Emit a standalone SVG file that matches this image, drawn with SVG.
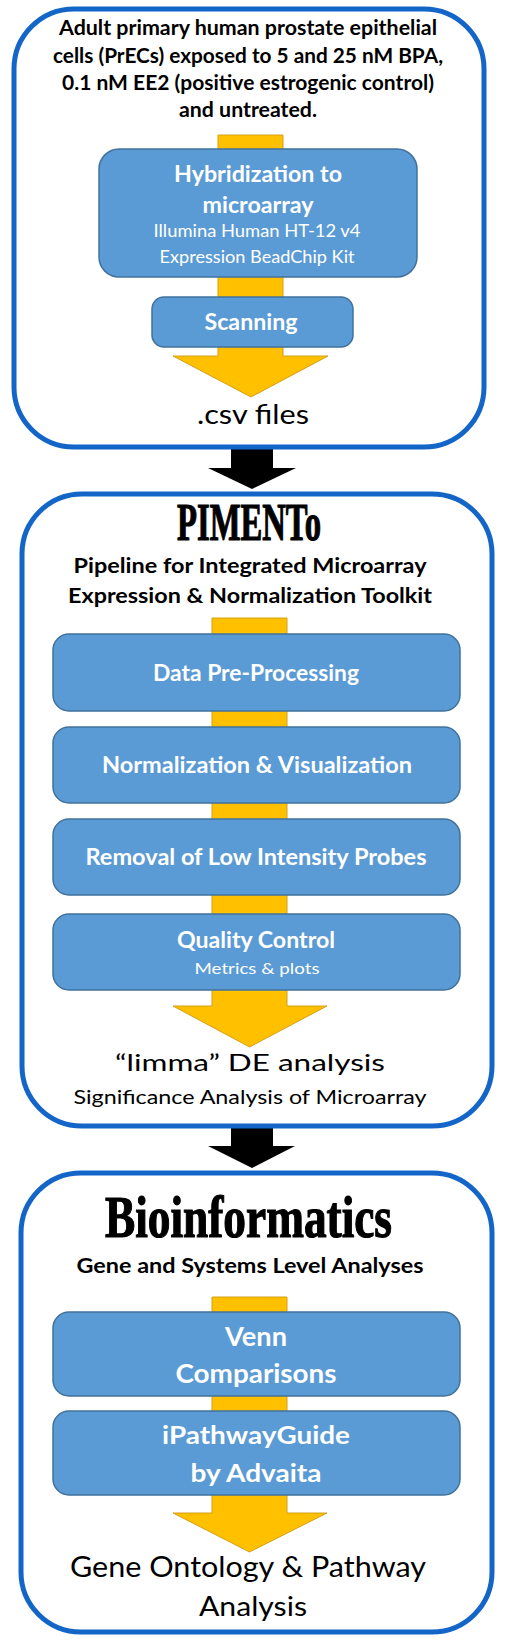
<svg xmlns="http://www.w3.org/2000/svg" width="506" height="1647" viewBox="0 0 506 1647">
<style>
.frame{fill:none;stroke:#1366C8;stroke-width:5}
.step{fill:#5B9BD5;stroke:#41719C;stroke-width:1.5}
.flow{fill:#FFC000;stroke:#D4A017;stroke-width:1}
.link{fill:#000}
text{font-family:Lato,"Open Sans","Liberation Sans",sans-serif;text-anchor:middle}
.b{font-weight:bold}
.w{fill:#fff}
.k{fill:#000}
.head{font-family:"Liberation Serif","DejaVu Serif",serif;font-weight:bold;fill:#000;stroke:#000;stroke-width:1.2}
</style>
<rect width="506" height="1647" fill="#fff"/>

<g id="connectors">
  <polygon class="flow" points="218,135 283,135 283,356 328,356 251,397 173,356 218,356"/>
  <polygon class="flow" points="212,618 287,618 287,1006 327,1006 249.5,1047 173,1006 212,1006"/>
  <polygon class="flow" points="212,1297 287,1297 287,1513 327,1513 249.5,1552 173,1513 212,1513"/>
  <polygon class="link" points="231,448 273,448 273,468 296,468 252,489 208,468 231,468"/>
  <polygon class="link" points="231,1127 273,1127 273,1146 295,1146 252,1168 208,1146 231,1146"/>
</g>

<g id="stage1">
  <rect class="frame" x="14" y="9" width="470" height="438" rx="60"/>
  <text class="b k" x="248" y="35" font-size="20" textLength="378" lengthAdjust="spacingAndGlyphs">Adult primary human prostate epithelial</text>
  <text class="b k" x="248" y="63" font-size="20" textLength="390" lengthAdjust="spacingAndGlyphs">cells (PrECs) exposed to 5 and 25 nM BPA,</text>
  <text class="b k" x="248" y="90" font-size="20" textLength="372" lengthAdjust="spacingAndGlyphs">0.1 nM EE2 (positive estrogenic control)</text>
  <text class="b k" x="248" y="117" font-size="20" textLength="138" lengthAdjust="spacingAndGlyphs">and untreated.</text>
  <text class="k" x="253" y="424" font-size="27" textLength="112" lengthAdjust="spacingAndGlyphs">.csv files</text>
</g>

<g id="hybridization">
  <rect class="step" x="99" y="149" width="318" height="128" rx="20"/>
  <text class="b w" x="258" y="182" font-size="22" textLength="168" lengthAdjust="spacingAndGlyphs">Hybridization to</text>
  <text class="b w" x="258" y="213" font-size="22" textLength="111" lengthAdjust="spacingAndGlyphs">microarray</text>
  <text class="w" x="257" y="237" font-size="17" textLength="207" lengthAdjust="spacingAndGlyphs">Illumina Human HT-12 v4</text>
  <text class="w" x="257" y="263" font-size="17" textLength="195" lengthAdjust="spacingAndGlyphs">Expression BeadChip Kit</text>
</g>

<g id="scanning">
  <rect class="step" x="152" y="297" width="201" height="50" rx="12"/>
  <text class="b w" x="251" y="330" font-size="23" textLength="93" lengthAdjust="spacingAndGlyphs">Scanning</text>
</g>

<g id="stage2">
  <rect class="frame" x="22" y="494" width="470" height="632" rx="60"/>
  <text class="head" x="249" y="540" font-size="53" textLength="144" lengthAdjust="spacingAndGlyphs">PIMENTo</text>
  <text class="b k" x="250" y="573" font-size="21" textLength="353" lengthAdjust="spacingAndGlyphs">Pipeline for Integrated Microarray</text>
  <text class="b k" x="250" y="603" font-size="21" textLength="364" lengthAdjust="spacingAndGlyphs">Expression &amp; Normalization Toolkit</text>
  <text class="k" x="250" y="1071" font-size="23" textLength="270" lengthAdjust="spacingAndGlyphs">“limma” DE analysis</text>
  <text class="k" x="250" y="1104" font-size="19.5" textLength="353" lengthAdjust="spacingAndGlyphs">Significance Analysis of Microarray</text>
</g>

<g id="preprocessing">
  <rect class="step" x="53" y="634" width="407" height="77" rx="16"/>
  <text class="b w" x="256" y="681" font-size="22" textLength="206" lengthAdjust="spacingAndGlyphs">Data Pre-Processing</text>
</g>

<g id="normalization">
  <rect class="step" x="53" y="727" width="407" height="76" rx="16"/>
  <text class="b w" x="257" y="773" font-size="22" textLength="310" lengthAdjust="spacingAndGlyphs">Normalization &amp; Visualization</text>
</g>

<g id="removal">
  <rect class="step" x="53" y="819" width="407" height="76" rx="16"/>
  <text class="b w" x="256" y="865" font-size="22" textLength="341" lengthAdjust="spacingAndGlyphs">Removal of Low Intensity Probes</text>
</g>

<g id="quality">
  <rect class="step" x="53" y="914" width="407" height="76" rx="16"/>
  <text class="b w" x="256" y="948" font-size="22" textLength="158" lengthAdjust="spacingAndGlyphs">Quality Control</text>
  <text class="w" x="257" y="974" font-size="16" textLength="125" lengthAdjust="spacingAndGlyphs">Metrics &amp; plots</text>
</g>

<g id="stage3">
  <rect class="frame" x="21" y="1173" width="471" height="459" rx="60"/>
  <text class="head" x="248.5" y="1237" font-size="59" textLength="287" lengthAdjust="spacingAndGlyphs">Bioinformatics</text>
  <text class="b k" x="250" y="1273" font-size="21" textLength="347" lengthAdjust="spacingAndGlyphs">Gene and Systems Level Analyses</text>
  <text class="k" x="248" y="1577" font-size="28" textLength="356" lengthAdjust="spacingAndGlyphs">Gene Ontology &amp; Pathway</text>
  <text class="k" x="253" y="1616" font-size="27" textLength="108" lengthAdjust="spacingAndGlyphs">Analysis</text>
</g>

<g id="venn">
  <rect class="step" x="53" y="1312" width="407" height="84" rx="16"/>
  <text class="b w" x="256" y="1346" font-size="26" textLength="62" lengthAdjust="spacingAndGlyphs">Venn</text>
  <text class="b w" x="256" y="1383" font-size="26" textLength="161" lengthAdjust="spacingAndGlyphs">Comparisons</text>
</g>

<g id="ipathway">
  <rect class="step" x="53" y="1411" width="407" height="84" rx="16"/>
  <text class="b w" x="256" y="1444" font-size="25" textLength="188" lengthAdjust="spacingAndGlyphs">iPathwayGuide</text>
  <text class="b w" x="256" y="1482" font-size="25" textLength="131" lengthAdjust="spacingAndGlyphs">by Advaita</text>
</g>
</svg>
